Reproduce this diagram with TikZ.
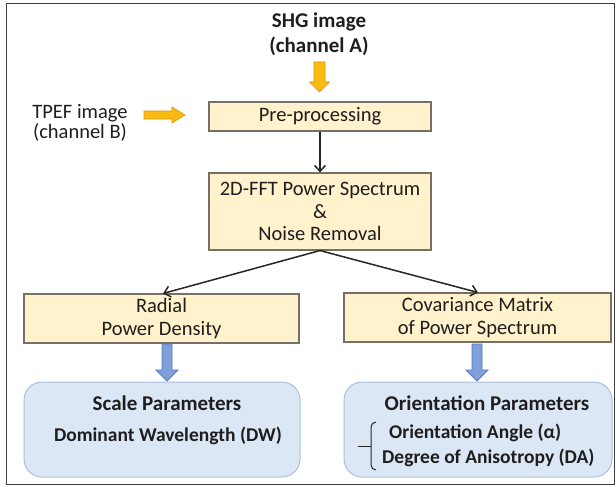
\documentclass[tikz,border=0pt]{standalone}
\usepackage{fontspec}
\setmainfont{Carlito}
\usetikzlibrary{arrows.meta}
\definecolor{boxfill}{RGB}{255,242,204}
\definecolor{boxline}{RGB}{118,113,100}
\definecolor{parfill}{RGB}{220,231,245}
\definecolor{parline}{RGB}{172,192,218}
\definecolor{orfill}{RGB}{250,186,20}
\definecolor{orline}{RGB}{214,150,0}
\definecolor{blfill}{RGB}{128,160,218}
\definecolor{blline}{RGB}{88,122,190}
\definecolor{txt}{RGB}{30,30,30}
\begin{document}
\begin{tikzpicture}[x=1pt,y=-1pt,
  every node/.style={text=txt,inner sep=0pt},
  procbox/.style={draw=boxline,line width=1.1pt,fill=boxfill,align=center,
    font=\fontsize{20.5}{22.5}\selectfont},
  parbox/.style={draw=parline,line width=1pt,fill=parfill,rounded corners=18pt},
  lbl/.style={font=\fontsize{20.5}{20.5}\selectfont,align=center},
  title/.style={font=\fontsize{21}{25}\selectfont\bfseries,align=center},
  item/.style={font=\fontsize{19.5}{23}\selectfont\bfseries},
  flow/.style={line width=1.5pt,draw=black!85,-{Straight Barb[length=6pt,width=11pt,line width=1.5pt]}},
  orarrow/.style={fill=orfill,draw=orline,line width=0.6pt,line join=miter},
  blarrow/.style={fill=blfill,draw=blline,line width=0.8pt,line join=miter}]
\useasboundingbox (0,0) rectangle (616,487);
\draw[line width=1pt,draw=black!75] (6,4) rectangle (614,484);

% inputs
\node[title] (shg) at (319,34) {SHG image\\(channel A)};
\node[lbl] (tpef) at (80,123) {TPEF image\\(channel B)};

% process boxes
\node[procbox,minimum width=222pt,minimum height=29pt] (pre) at (320,116.5) {Pre-processing};
\node[procbox,minimum width=222pt,minimum height=77pt] (fft) at (320,211.5)
  {2D-FFT Power Spectrum\\\&\\Noise Removal};
\node[procbox,minimum width=275pt,minimum height=49pt] (rad) at (161.5,318.5)
  {Radial\\Power Density};
\node[procbox,minimum width=267pt,minimum height=49pt] (cov) at (477.5,317.5)
  {Covariance Matrix\\of Power Spectrum};

% parameter boxes
\node[parbox,minimum width=276pt,minimum height=95pt] (scale) at (162,429.5) {};
\node[parbox,minimum width=268pt,minimum height=95pt] (orient) at (478,429.5) {};
\node[title] (scalet) at (167,403) {Scale Parameters};
\node[item] (dw) at (168,436) {Dominant Wavelength (DW)};
\node[title] (orientt) at (487,403) {Orientation Parameters};
\node[item,anchor=west] (oa) at (389,433) {Orientation Angle (α)};
\node[item,anchor=west] (da) at (382,458) {Degree of Anisotropy (DA)};

% brace
\coordinate (bm) at (371,446);
\draw[line width=1pt,black!85] (bm) ++(5,-24) to[out=180,in=90] ++(-5,5) -- ++(0,38)
  to[out=270,in=180] ++(5,5);
\draw[line width=1pt,black!85] (bm) -- ++(-13,0);

% connectors
\draw[flow] (pre.south) -- (fft.north);
\draw[flow] (fft.south) -- (163,293.5);
\draw[flow] (fft.south) -- (478,292.5);

% block arrows
\coordinate (oatop) at (319.5,62);
\draw[orarrow] (oatop) ++(-5.5,0) -- ++(11,0) -- ++(0,20) -- ++(4.5,0) -- ++(-10,10)
  -- ++(-10,-10) -- ++(4.5,0) -- cycle;
\coordinate (obleft) at (144,115);
\draw[orarrow] (obleft) ++(0,-4) -- ++(28,0) -- ++(0,-4) -- ++(13,8) -- ++(-13,8)
  -- ++(0,-4) -- ++(-28,0) -- cycle;
\coordinate (b1) at (167,344);
\draw[blarrow] (b1) ++(-5,0) -- ++(10,0) -- ++(0,26) -- ++(6,0) -- ++(-11,11)
  -- ++(-11,-11) -- ++(6,0) -- cycle;
\coordinate (b2) at (477,344);
\draw[blarrow] (b2) ++(-5,0) -- ++(10,0) -- ++(0,26) -- ++(6,0) -- ++(-11,11)
  -- ++(-11,-11) -- ++(6,0) -- cycle;
\end{tikzpicture}
\end{document}
